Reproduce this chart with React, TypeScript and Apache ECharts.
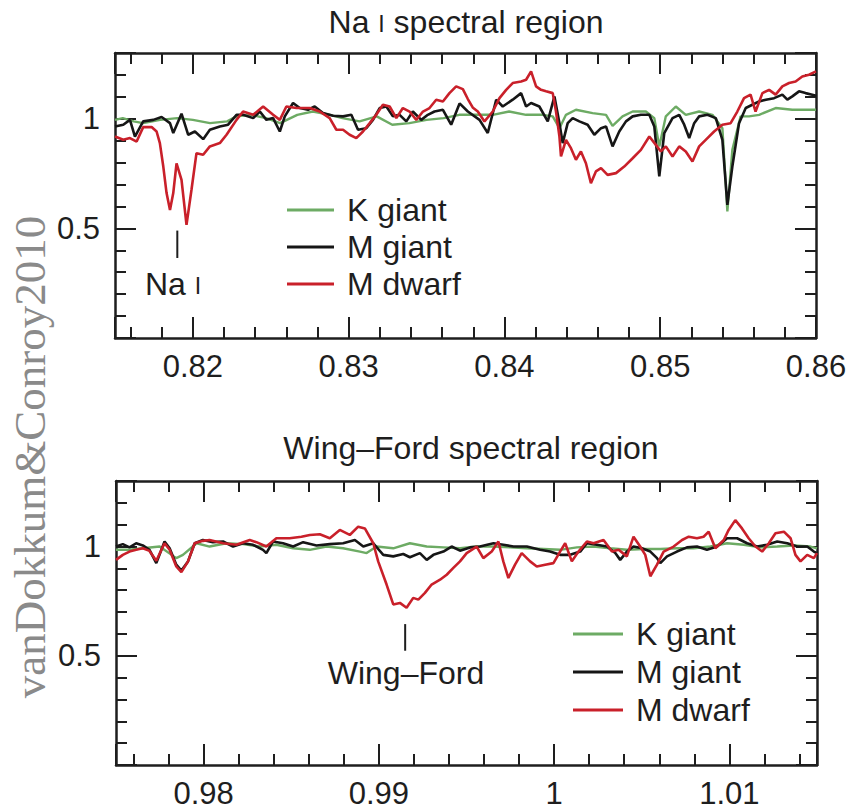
import { useEffect, useRef } from "react";
import * as echarts from "echarts";

// ---- data: normalised flux vs wavelength (micron) ----
const seriesNames = ["K giant", "M giant", "M dwarf"];
const naRange = [0.815, 0.86];
const wfRange = [0.975, 1.015];
const fluxRange = [0, 1.3];
const fluxTickLabels = [0.5, 1];

const naKGiant = [
  [0.815, 0.995], [0.8155, 1.003], [0.8162, 0.988], [0.8168, 0.98], [0.8179, 0.995], [0.819, 1.003],
  [0.82, 0.995], [0.8211, 0.98], [0.8222, 0.988], [0.8228, 1.011], [0.8237, 1.018], [0.8247, 1.003],
  [0.8256, 0.98], [0.8267, 1.018], [0.8277, 1.033], [0.8288, 1.018], [0.8296, 1.003], [0.8307, 0.988],
  [0.8318, 1.011], [0.8328, 0.973], [0.8339, 0.98], [0.835, 0.995], [0.8361, 1.003], [0.8371, 1.018],
  [0.83925, 1.018], [0.8403, 1.033], [0.84139, 1.018], [0.84246, 1.018], [0.8431, 1.011], [0.84353, 0.957],
  [0.84395, 1.018], [0.84459, 1.041], [0.84566, 1.026], [0.84652, 1.018], [0.84694, 0.968], [0.84758, 1.011],
  [0.84823, 1.033], [0.84908, 1.033], [0.84962, 1.003], [0.84994, 0.874], [0.85036, 1.011], [0.851, 1.056],
  [0.85164, 1.018], [0.8525, 1.033], [0.85335, 1.018], [0.85399, 0.957], [0.85431, 0.577], [0.85463, 0.858],
  [0.85516, 1.011], [0.8557, 1.011], [0.85635, 1.018], [0.85741, 1.049], [0.85848, 1.041], [0.86, 1.041],
];

const naMGiant = [
  [0.815, 0.965], [0.81553, 0.973], [0.81596, 0.995], [0.81628, 0.919], [0.81681, 0.988], [0.81746, 0.995],
  [0.81799, 1.008], [0.81853, 0.98], [0.81874, 0.935], [0.81927, 1.023], [0.8197, 0.927], [0.82013, 0.942],
  [0.82066, 0.907], [0.82109, 0.95], [0.82173, 0.965], [0.82226, 0.973], [0.8228, 1.018], [0.82322, 1.018],
  [0.82387, 1.003], [0.8243, 1.033], [0.82472, 0.995], [0.82515, 1.003], [0.82558, 0.942], [0.8259, 1.011],
  [0.82643, 1.072], [0.82686, 1.049], [0.82739, 1.041], [0.82782, 1.056], [0.82835, 1.026], [0.829, 1.014],
  [0.82964, 1.011], [0.83017, 1.018], [0.8306, 0.95], [0.83113, 0.957], [0.83156, 0.995], [0.83199, 1.049],
  [0.83242, 1.056], [0.83284, 1.011], [0.83327, 1.018], [0.8337, 0.988], [0.83412, 1.033], [0.83466, 0.995],
  [0.83508, 1.018], [0.83551, 1.033], [0.83605, 1.041], [0.83658, 0.973], [0.83712, 1.07], [0.83765, 1.033],
  [0.8384, 0.995], [0.83893, 0.935], [0.83947, 1.087], [0.83989, 1.056], [0.84053, 1.087], [0.84107, 1.117],
  [0.84139, 1.056], [0.84171, 1.072], [0.84224, 1.056], [0.84278, 0.988], [0.84321, 1.102], [0.84353, 0.98],
  [0.84374, 0.889], [0.84406, 0.98], [0.84438, 1.003], [0.84481, 0.988], [0.84534, 0.973], [0.84577, 0.927],
  [0.8462, 0.957], [0.84652, 0.965], [0.84694, 0.874], [0.84737, 0.942], [0.8478, 0.988], [0.84823, 1.011],
  [0.84876, 1.018], [0.8493, 1.018], [0.84962, 0.965], [0.84994, 0.737], [0.85026, 0.935], [0.85079, 1.003],
  [0.85122, 1.018], [0.85154, 0.973], [0.85186, 0.912], [0.85218, 0.98], [0.8525, 1.011], [0.85303, 1.018],
  [0.85357, 1.003], [0.85399, 0.904], [0.85431, 0.607], [0.85463, 0.782], [0.85506, 0.98], [0.85549, 1.049],
  [0.85591, 1.064], [0.85635, 1.079], [0.85678, 1.087], [0.85731, 1.094], [0.85784, 1.11], [0.85816, 1.087],
  [0.85848, 1.102], [0.85891, 1.125], [0.85933, 1.117], [0.85976, 1.11], [0.86, 1.105],
];

const naMDwarf = [
  [0.815, 0.919], [0.81553, 0.904], [0.81596, 0.912], [0.81639, 0.896], [0.81681, 0.962], [0.81735, 0.962],
  [0.81767, 0.942], [0.81788, 0.889], [0.8181, 0.782], [0.81831, 0.661], [0.81853, 0.584], [0.81874, 0.661],
  [0.81895, 0.797], [0.81927, 0.721], [0.81959, 0.516], [0.81991, 0.676], [0.82023, 0.843], [0.82066, 0.836],
  [0.82109, 0.874], [0.82173, 0.889], [0.82216, 0.927], [0.8228, 0.995], [0.82322, 1.033], [0.82387, 1.018],
  [0.82451, 1.056], [0.82515, 1.018], [0.82558, 0.995], [0.826, 1.056], [0.82665, 1.049], [0.8275, 1.049],
  [0.82814, 1.033], [0.82878, 1.003], [0.82921, 0.95], [0.82964, 0.95], [0.83006, 0.927], [0.83049, 0.912],
  [0.83092, 0.942], [0.83135, 0.98], [0.83177, 1.018], [0.8322, 1.064], [0.83263, 1.056], [0.83306, 1.003],
  [0.83348, 1.049], [0.83391, 1.033], [0.83434, 0.995], [0.83477, 1.033], [0.83519, 1.049], [0.83562, 1.087],
  [0.83605, 1.079], [0.83647, 1.117], [0.8369, 1.148], [0.83733, 1.135], [0.83765, 1.09], [0.83798, 1.05],
  [0.83829, 1.033], [0.83872, 0.988], [0.83925, 1.033], [0.83968, 1.094], [0.84011, 1.132], [0.84053, 1.163],
  [0.84107, 1.17], [0.84139, 1.178], [0.84171, 1.216], [0.84203, 1.148], [0.84235, 1.132], [0.84267, 1.125],
  [0.8431, 1.117], [0.84331, 1.033], [0.84353, 0.919], [0.84363, 0.828], [0.84395, 0.904], [0.84427, 0.866],
  [0.84459, 0.813], [0.84491, 0.851], [0.84523, 0.797], [0.84555, 0.706], [0.84587, 0.76], [0.8462, 0.775],
  [0.84662, 0.744], [0.84716, 0.752], [0.84769, 0.782], [0.84823, 0.82], [0.84876, 0.858], [0.8493, 0.919],
  [0.84972, 0.881], [0.85004, 0.851], [0.85036, 0.874], [0.85079, 0.828], [0.85122, 0.874], [0.85164, 0.851],
  [0.85207, 0.805], [0.8525, 0.874], [0.85292, 0.904], [0.85346, 0.942], [0.85399, 0.973], [0.85452, 0.98],
  [0.85495, 1.033], [0.85538, 1.094], [0.8558, 1.11], [0.85612, 1.033], [0.85656, 1.117], [0.85699, 1.132],
  [0.85741, 1.11], [0.85784, 1.148], [0.85827, 1.163], [0.85869, 1.17], [0.85912, 1.193], [0.85955, 1.201],
  [0.86, 1.216],
];

const wfKGiant = [
  [0.975, 0.985], [0.97577, 0.985], [0.97653, 0.992], [0.97749, 1.0], [0.97844, 0.947], [0.97882, 0.962],
  [0.9796, 1.015], [0.98034, 1.0], [0.9813, 1.015], [0.98225, 1.011], [0.9832, 1.0], [0.98415, 1.008],
  [0.98511, 0.992], [0.98606, 0.985], [0.98701, 1.0], [0.98796, 0.992], [0.98892, 0.977], [0.9893, 0.97],
  [0.98987, 1.0], [0.99082, 0.992], [0.99177, 1.015], [0.99273, 1.0], [0.99368, 0.996], [0.99463, 0.992],
  [0.99558, 1.0], [0.99654, 1.0], [0.99749, 0.996], [0.99844, 0.992], [0.9994, 0.989], [1.00034, 0.985],
  [1.0013, 0.996], [1.00225, 1.0], [1.0032, 0.992], [1.00415, 0.985], [1.00511, 0.989], [1.00606, 0.989],
  [1.00701, 0.992], [1.00796, 0.992], [1.00892, 1.0], [1.00987, 1.015], [1.01082, 1.008], [1.01177, 0.996],
  [1.01273, 1.0], [1.01368, 1.005], [1.01463, 1.0], [1.015, 0.992],
];

const wfMGiant = [
  [0.975, 1.0], [0.97539, 1.011], [0.97577, 0.996], [0.97615, 1.015], [0.97653, 1.005], [0.97691, 0.985],
  [0.9773, 0.924], [0.97777, 1.023], [0.97806, 0.992], [0.97844, 0.917], [0.97873, 0.89], [0.97911, 0.932],
  [0.97949, 1.015], [0.97996, 1.03], [0.98053, 1.02], [0.98111, 1.023], [0.98168, 1.0], [0.98225, 1.015],
  [0.98282, 1.008], [0.98339, 0.985], [0.98358, 0.97], [0.98396, 1.023], [0.98453, 1.015], [0.98511, 1.0],
  [0.98568, 1.02], [0.98644, 1.005], [0.9872, 1.011], [0.98796, 1.015], [0.98863, 1.03], [0.98911, 1.0],
  [0.98968, 1.015], [0.99025, 0.962], [0.99082, 0.955], [0.99139, 0.966], [0.99177, 0.951], [0.99234, 0.97],
  [0.99273, 0.939], [0.99311, 0.962], [0.99368, 0.977], [0.99415, 1.0], [0.99463, 0.981], [0.9952, 0.996],
  [0.99577, 1.0], [0.99654, 1.015], [0.9971, 1.008], [0.99768, 1.0], [0.99844, 1.0], [0.9992, 0.985],
  [0.99977, 0.977], [1.00034, 0.962], [1.00091, 0.962], [1.00149, 0.977], [1.00187, 1.015], [1.00244, 1.008],
  [1.00301, 1.0], [1.00349, 0.97], [1.00377, 0.939], [1.00415, 0.977], [1.00453, 1.0], [1.00501, 0.992],
  [1.00549, 0.977], [1.00587, 0.947], [1.00606, 0.924], [1.00644, 0.955], [1.00701, 0.977], [1.00758, 0.996],
  [1.00815, 1.0], [1.00872, 0.985], [1.0093, 1.0], [1.00987, 1.038], [1.01044, 1.038], [1.01101, 1.015],
  [1.01158, 1.0], [1.01215, 1.008], [1.01273, 1.023], [1.0133, 1.015], [1.01387, 1.0], [1.01444, 1.0],
  [1.01482, 0.977], [1.015, 0.97],
];

const wfMDwarf = [
  [0.975, 0.939], [0.97539, 0.962], [0.97577, 0.977], [0.97615, 0.985], [0.97653, 0.992], [0.97691, 0.98],
  [0.9773, 0.935], [0.97777, 1.015], [0.97806, 0.985], [0.97844, 0.909], [0.97873, 0.883], [0.97911, 0.932],
  [0.97949, 1.015], [0.97996, 1.026], [0.98034, 1.03], [0.98111, 1.015], [0.98187, 1.008], [0.98263, 1.03],
  [0.98301, 1.02], [0.98358, 1.0], [0.98415, 1.038], [0.98491, 1.038], [0.98558, 1.045], [0.98606, 1.053],
  [0.98663, 1.056], [0.9872, 1.038], [0.98777, 1.076], [0.98834, 1.053], [0.98882, 1.091], [0.9892, 1.083],
  [0.98968, 1.015], [0.98996, 0.932], [0.99044, 0.826], [0.99082, 0.735], [0.9912, 0.742], [0.99158, 0.72],
  [0.99196, 0.765], [0.99225, 0.757], [0.99263, 0.788], [0.99301, 0.826], [0.99349, 0.848], [0.99387, 0.871],
  [0.99425, 0.902], [0.99463, 0.932], [0.99501, 0.97], [0.99558, 1.0], [0.99596, 0.947], [0.99644, 0.977],
  [0.99682, 1.023], [0.9971, 0.932], [0.99739, 0.856], [0.99777, 0.917], [0.99815, 0.97], [0.99863, 0.932],
  [0.99901, 0.909], [0.99949, 0.917], [0.99996, 0.924], [1.00034, 0.977], [1.00063, 1.015], [1.00101, 0.932],
  [1.00139, 0.977], [1.00187, 1.023], [1.00225, 1.015], [1.00282, 1.03], [1.0033, 0.977], [1.00368, 0.985],
  [1.00415, 0.955], [1.00453, 1.045], [1.00491, 1.0], [1.0052, 0.962], [1.00549, 0.864], [1.00587, 0.917],
  [1.00625, 0.977], [1.00682, 1.0], [1.0073, 1.03], [1.00768, 1.045], [1.00815, 1.038], [1.00853, 1.045],
  [1.00882, 1.068], [1.0092, 0.992], [1.00968, 1.03], [1.00996, 1.076], [1.01034, 1.121], [1.01072, 1.083],
  [1.0111, 1.038], [1.01149, 1.0], [1.01187, 0.977], [1.01225, 1.015], [1.01263, 1.061], [1.01311, 1.068],
  [1.01349, 1.038], [1.01377, 0.962], [1.01406, 0.932], [1.01444, 0.962], [1.01482, 0.947], [1.015, 0.97],
];

// feature markers: wavelength of the line and the flux span of the tick drawn above its label
const naMarker = [[0.819, 0.49], [0.819, 0.365]];
const wfMarker = [[0.9915, 0.645], [0.9915, 0.523]];

// ---- styling ----
const FONT = "'Liberation Sans', Arial, Helvetica, sans-serif";
const INK = "#1e1e1e";
const COLORS = ["#6dab64", "#161616", "#c9202a"];
const LINE_WIDTHS = [2.4, 2.6, 2.6];
const TEXT_SIZE = 32;

const tickStyle = { color: INK, width: 2 };

function xLabel(v: number) {
  const k = Math.round(v * 100);
  return Math.abs(v * 100 - k) < 1e-6 ? String(k / 100) : "";
}

function yLabel(v: number) {
  return fluxTickLabels.some((t) => Math.abs(t - v) < 1e-9) ? String(v) : "";
}

function xAxisPair(gridIndex: number, range: number[]) {
  const common = {
    type: "value",
    gridIndex,
    min: range[0],
    max: range[1],
    splitNumber: 5,
    minInterval: 0.01,
    maxInterval: 0.01,
    axisLine: { show: true, onZero: false, lineStyle: { color: INK, width: 2.5 } },
    axisTick: { show: true, inside: true, length: 21, lineStyle: tickStyle },
    minorTick: { show: true, splitNumber: 5, length: 11, lineStyle: tickStyle },
    splitLine: { show: false },
  };
  return [
    {
      ...common,
      position: "bottom",
      axisLabel: { show: true, margin: 13, fontSize: 31, color: INK, fontFamily: FONT, formatter: xLabel },
    },
    { ...common, position: "top", axisLabel: { show: false } },
  ];
}

function yAxisPair(gridIndex: number) {
  const common = {
    type: "value",
    gridIndex,
    min: fluxRange[0],
    max: fluxRange[1],
    interval: 0.5,
    axisLine: { show: true, onZero: false, lineStyle: { color: INK, width: 2.5 } },
    axisTick: { show: true, inside: true, length: 21, lineStyle: tickStyle },
    minorTick: { show: true, splitNumber: 5, length: 11, lineStyle: tickStyle },
    splitLine: { show: false },
  };
  return [
    {
      ...common,
      position: "left",
      axisLabel: { show: true, margin: 15, fontSize: 31, color: INK, fontFamily: FONT, formatter: yLabel },
    },
    { ...common, position: "right", axisLabel: { show: false } },
  ];
}

function spectra(axisIndex: number, sets: number[][][], marker: number[][]) {
  // draw order: K giant, M dwarf, M giant on top
  const order = [0, 2, 1];
  const lines = order.map((i) => ({
    type: "line",
    name: seriesNames[i],
    xAxisIndex: axisIndex,
    yAxisIndex: axisIndex,
    data: sets[i],
    showSymbol: false,
    symbol: "none",
    silent: true,
    itemStyle: { color: COLORS[i] },
    lineStyle: { color: COLORS[i], width: LINE_WIDTHS[i] },
    z: 2 + i,
  }));
  const tick = {
    type: "line",
    name: "marker",
    xAxisIndex: axisIndex,
    yAxisIndex: axisIndex,
    data: marker,
    showSymbol: false,
    symbol: "none",
    silent: true,
    lineStyle: { color: INK, width: 2 },
    z: 5,
  };
  return [...lines, tick];
}

function legendAt(left: number, top: number, lineWidth: number, gap: number) {
  return {
    left,
    top,
    padding: 0,
    orient: "vertical",
    data: seriesNames,
    icon: "rect",
    itemWidth: lineWidth,
    itemHeight: 3,
    itemGap: gap,
    selectedMode: false,
    textStyle: {
      fontSize: TEXT_SIZE,
      lineHeight: TEXT_SIZE,
      color: INK,
      fontFamily: FONT,
      padding: [0, 0, 0, 8],
    },
  };
}

// roman numeral "I" set as a small capital
const smallCaps = {
  sc: { fontSize: 23, fontFamily: FONT, fill: INK, verticalAlign: "bottom", padding: [0, 0, 3, 0] },
};

export default function App() {
  const ref = useRef<HTMLDivElement>(null);

  useEffect(() => {
    if (!ref.current) return;
    const chart = echarts.init(ref.current, null, { renderer: "svg" });
    const label = (text: string, x: number, y: number, align: string, rich?: object) => ({
      type: "text",
      x,
      y,
      style: {
        text,
        fontSize: TEXT_SIZE,
        fontFamily: FONT,
        fill: INK,
        align,
        verticalAlign: "middle",
        ...(rich ? { rich } : {}),
      },
    });
    const option = {
      animation: false,
      backgroundColor: "#ffffff",
      grid: [
        { left: 115, top: 53, width: 701, height: 285 },
        { left: 116, top: 481, width: 701, height: 284 },
      ],
      xAxis: [...xAxisPair(0, naRange), ...xAxisPair(1, wfRange)],
      yAxis: [...yAxisPair(0), ...yAxisPair(1)],
      legend: [legendAt(287, 194, 47, 5), legendAt(573, 618, 50, 6)],
      series: [
        ...spectra(0, [naKGiant, naMGiant, naMDwarf], naMarker),
        ...spectra(2, [wfKGiant, wfMGiant, wfMDwarf], wfMarker),
      ],
      graphic: [
        label("Na {sc|I} spectral region", 466, 22, "center", smallCaps),
        label("Wing\u2013Ford spectral region", 471, 448, "center"),
        label("Na {sc|I}", 145, 284, "left", smallCaps),
        label("Wing\u2013Ford", 406, 673, "center"),
        {
          type: "text",
          x: 30,
          y: 457,
          rotation: Math.PI / 2,
          style: {
            text: "vanDokkum&Conroy2010",
            fontSize: 45,
            fontFamily: "'Liberation Serif', 'Times New Roman', serif",
            fill: "#8a8a8a",
            align: "center",
            verticalAlign: "middle",
          },
        },
      ],
    };
    chart.setOption(option as any);
    return () => chart.dispose();
  }, []);

  return (
    <div
      ref={ref}
      style={{ position: "fixed", left: 0, top: 0, width: 852, height: 812, background: "#fff" }}
    />
  );
}
